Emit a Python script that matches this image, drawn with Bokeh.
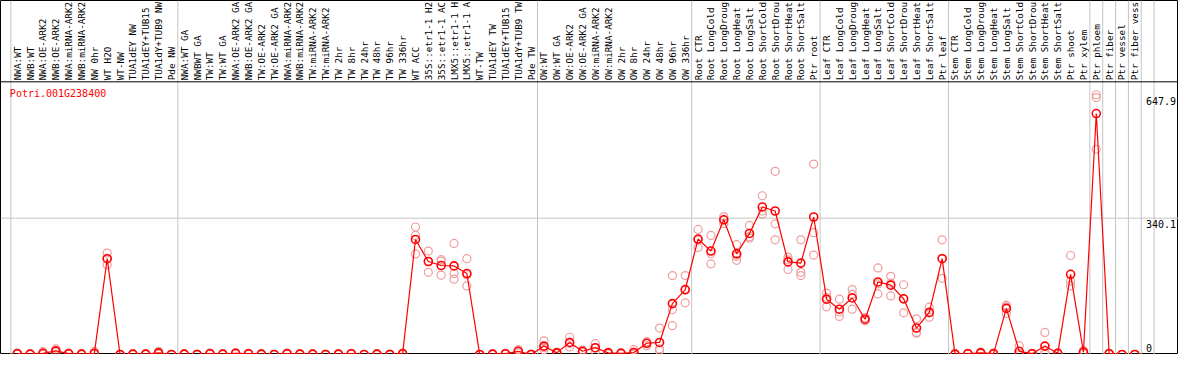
import math
from bokeh.plotting import figure
from bokeh.models import Range1d, Span, ColumnDataSource
from bokeh.core.properties import value
from bokeh.embed import file_html
from bokeh.resources import INLINE

gene = "Potri.001G238400"

labels = [
    "NWA:WT", "NWB:WT", "NWA:OE-ARK2", "NWB:OE-ARK2", "NWA:miRNA-ARK2", "NWB:miRNA-ARK2",
    "NW 0hr", "WT H2O", "WT-NW", "TUA1dEY NW", "TUA1dEY+TUB15", "TUA1dY+TUB9 NW", "Pde NW",
    "NWA:WT GA", "NWBWT GA", "TW:WT", "TW:WT GA", "NWA:OE-ARK2 GA", "NWB:OE-ARK2 GA",
    "TW:OE-ARK2", "TW:OE-ARK2 GA", "NWA:miRNA-ARK2", "NWB:miRNA-ARK2", "TW:miRNA-ARK2",
    "TW:miRNA-ARK2", "TW 2hr", "TW 8hr", "TW 24hr", "TW 48hr", "TW 96hr", "TW 336hr",
    "WT ACC", "35S::etr1-1 H2", "35S::etr1-1 AC", "LMX5::etr1-1 H", "LMX5::etr1-1 A",
    "WT-TW", "TUA1dEY TW", "TUA1dEY+TUB15", "TUA1dY+TUB9 TW", "Pde TW",
    "OW:WT", "OW:WT GA", "OW:OE-ARK2", "OW:OE-ARK2 GA", "OW:miRNA-ARK2", "OW:miRNA-ARK2",
    "OW 2hr", "OW 8hr", "OW 24hr", "OW 48hr", "OW 96hr", "OW 336hr",
    "Root CTR", "Root LongCold", "Root LongDroug", "Root LongHeat", "Root LongSalt",
    "Root ShortCold", "Root ShortDrou", "Root ShortHeat", "Root ShortSalt", "Ptr root",
    "Leaf CTR", "Leaf LongCold", "Leaf LongDroug", "Leaf LongHeat", "Leaf LongSalt",
    "Leaf ShortCold", "Leaf ShortDrou", "Leaf ShortHeat", "Leaf ShortSalt", "Ptr leaf",
    "Stem CTR", "Stem LongCold", "Stem LongDroug", "Stem LongHeat", "Stem LongSalt",
    "Stem ShortCold", "Stem ShortDrou", "Stem ShortHeat", "Stem ShortSalt", "Ptr shoot",
    "Ptr xylem", "Ptr phloem", "Ptr fiber", "Ptr vessel", "Ptr fiber vess",
]

group_sizes = [13, 28, 12, 10, 10, 11, 1, 1, 1, 1, 1]

means = [
    2, 1, 3, 9, 2, 1, 3, 239, 0, 1, 1, 4, 0,
    1, 0, 2, 1, 3, 2, 1, 0, 2, 1, 1, 0, 1, 2, 0, 1, 0, 2,
    287, 232, 222, 221, 202, 0, 1, 2, 8, 0,
    21, 4, 30, 8, 17, 4, 3, 5, 28, 30, 127, 162,
    288, 258, 336, 251, 302, 368, 358, 231, 228, 343,
    138, 113, 141, 88, 181, 173, 139, 66, 105, 239,
    1, 2, 4, 2, 115, 8, 2, 21, 3, 200, 6, 601, 2, 0, 0,
]
rep1 = [
    4, 2, 7, 14, 4, 2, 8, 253, 0, 2, 2, 8, 0,
    2, 1, 4, 2, 5, 3, 2, 0, 4, 2, 2, 1, 2, 3, 0, 2, 1, 4,
    318, 258, 237, 277, 239, 0, 2, 3, 12, 1,
    34, 6, 43, 11, 27, 6, 5, 12, 32, 66, 197, 197,
    312, 297, 344, 274, 322, 396, 457, 243, 286, 475,
    153, 138, 162, 92, 216, 195, 174, 89, 118, 286,
    2, 3, 6, 4, 123, 22, 3, 55, 4, 247, 10, 647.9, 3, 0, 0,
]
rep2 = [
    1, 1, 2, 8, 1, 1, 1, 240, 0, 1, 1, 3, 0,
    1, 0, 1, 1, 3, 2, 1, 0, 1, 1, 1, 0, 1, 2, 0, 1, 0, 2,
    297, 232, 233, 202, 199, 0, 1, 2, 8, 0,
    17, 4, 28, 8, 16, 4, 3, 2, 28, 14, 112, 160,
    285, 252, 336, 245, 294, 358, 326, 236, 205, 304,
    142, 106, 150, 87, 176, 178, 139, 55, 104, 240,
    1, 2, 4, 1, 119, 2, 2, 8, 3, 183, 6, 641, 2, 0, 0,
]
rep3 = [
    1, 0, 0, 5, 1, 0, 0, 224, 0, 0, 0, 1, 0,
    0, 0, 1, 0, 1, 1, 0, 0, 1, 0, 0, 0, 0, 1, 0, 0, 0, 0,
    251, 205, 198, 188, 171, 0, 0, 0, 4, 0,
    12, 2, 19, 5, 8, 2, 1, 1, 22, 10, 72, 129,
    267, 226, 327, 235, 290, 350, 286, 212, 197, 248,
    119, 95, 113, 84, 151, 146, 104, 53, 93, 190,
    0, 1, 2, 1, 102, 0, 1, 0, 1, 171, 2, 512, 1, 0, 0,
]

tick_values = [647.9, 340.1, 0]
tick_labels = ["647.9", "340.1", "0"]

# ---- layout constants ----
W, H = 1178, 354
REF_W, REF_H = 1194, 370
COL0, COLW = 17.0, 13.02          # reference px: first column centre, column pitch
PLOT_TOP = 85.0                    # reference px of header/plot boundary
YMAX = 680.2                       # value at header/plot boundary
upp = YMAX / (REF_H - PLOT_TOP)    # value units per reference px
Y_TOP = REF_H * upp
X_LEFT = -COL0 / COLW
X_RIGHT = (REF_W - COL0) / COLW
my_upp = Y_TOP / H                 # value units per output px

RED = "#ff0000"
PINK = "#f09c9c"
GRID = "#c4c4c4"
MONO = value("DejaVu Sans Mono")

p = figure(width=W, height=H, output_backend="svg", toolbar_location=None,
           x_axis_type=None, y_axis_type=None,
           x_range=Range1d(X_LEFT, X_RIGHT), y_range=Range1d(0, Y_TOP),
           min_border=0, min_border_left=0, min_border_right=0,
           min_border_top=0, min_border_bottom=0)
p.xgrid.visible = False
p.ygrid.visible = False
p.outline_line_color = "black"
p.outline_line_width = 1
p.background_fill_color = "white"
p.border_fill_color = "white"

# vertical group separators
bounds = [-0.5]
acc = 0
for g in group_sizes:
    acc += g
    bounds.append(acc - 0.5)
for b in bounds:
    p.add_layout(Span(location=b, dimension="height", line_color=GRID,
                      line_width=1, level="underlay"))
# mid-level gray line and header boundary
p.add_layout(Span(location=YMAX / 2, dimension="width", line_color=GRID,
                  line_width=1, level="underlay"))
p.add_layout(Span(location=YMAX, dimension="width", line_color="black",
                  line_width=1))

idx = list(range(len(labels)))

# replicates
rsrc = ColumnDataSource(dict(x=idx * 3, y=rep1 + rep2 + rep3))
p.scatter("x", "y", source=rsrc, marker="circle", size=8,
          fill_color=None, line_color=PINK, line_width=1.2)

# mean line and markers
msrc = ColumnDataSource(dict(x=idx, y=means))
p.line("x", "y", source=msrc, line_color=RED, line_width=1.2)
p.scatter("x", "y", source=msrc, marker="circle", size=8,
          fill_color=None, line_color=RED, line_width=1.6)

# header labels (rotated)
lsrc = ColumnDataSource(dict(x=idx, y=[YMAX + 1.6 * my_upp] * len(idx), t=labels))
p.text("x", "y", text="t", source=lsrc, angle=math.pi / 2,
       text_align="left", text_baseline="middle",
       text_font=MONO, text_font_size="9.3px", text_color="black")

# gene name
p.text(x=[(9.5 - COL0) / COLW], y=[(REF_H - 91) * upp], text=[gene],
       text_align="left", text_baseline="top",
       text_font=MONO, text_font_size="10px", text_color=RED)

# value labels at right
tx = (1162 - COL0) / COLW
p.text(x=[tx, tx], y=tick_values[:2], text=tick_labels[:2],
       text_align="left", text_baseline="top", y_offset=2, x_offset=-1,
       text_font=MONO, text_font_size="10px", text_color="black")
p.text(x=[tx], y=[tick_values[2]], text=[tick_labels[2]],
       text_align="left", text_baseline="bottom", y_offset=-3, x_offset=-1,
       text_font=MONO, text_font_size="10px", text_color="black")

open("out.html", "w").write(file_html(p, INLINE, title=gene))
